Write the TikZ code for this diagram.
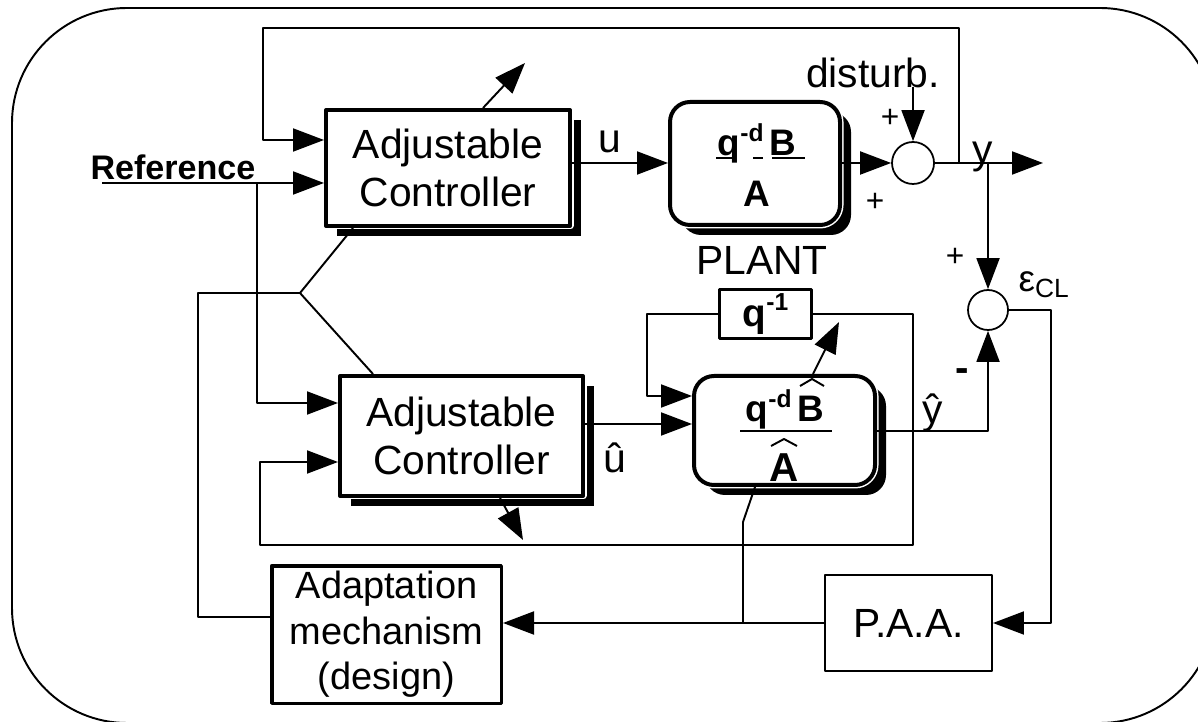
\documentclass[tikz,border=0pt]{standalone}
\usepackage{fontspec}
\setmainfont{Liberation Sans}
\usetikzlibrary{arrows.meta,shadows}

\newcommand{\upidx}[1]{\raisebox{0.4em}{\fontsize{7}{8}\selectfont #1}}

\begin{document}
\begin{tikzpicture}[x=0.1mm,y=-0.1mm,line join=round,
    >={Triangle[length=3.1mm,width=2.3mm]},
    wire/.style={line width=0.55pt},
    txt/.style={font=\fontsize{11.6}{13.8}\selectfont,inner sep=0pt},
    small/.style={font=\fontsize{9}{10}\selectfont,inner sep=0pt},
    shadowed/.style={drop shadow={shadow xshift=1.1mm,shadow yshift=-1mm,
        fill=black,opacity=1},preaction={draw=white,line width=0.7mm}},
    ctrlbox/.style={txt,draw,fill=white,line width=0.4mm,align=center,shadowed},
    plantbox/.style={draw,fill=white,line width=0.4mm,rounded corners=2mm,
        inner sep=0pt,shadowed},
    sumnode/.style={circle,draw,line width=0.5pt,minimum size=4.2mm,inner sep=0pt},
    plainbox/.style={txt,draw,align=center},
    fracfont/.style={font=\bfseries\fontsize{10.5}{12}\selectfont,inner sep=0pt}]

\useasboundingbox (0,0) rectangle (1198,722);

%% ---------------- frame ----------------------------------------------
\draw[wire,rounded corners=11.5mm] (12,8) rectangle (1215,723);

%% ---------------- blocks ---------------------------------------------
\node[ctrlbox,minimum width=24.4mm,minimum height=11.6mm] (ctrl) at (448,168)
  {Adjustable\\Controller};
\node[ctrlbox,minimum width=24.3mm,minimum height=12mm] (ctrlm) at (461.5,436)
  {Adjustable\\Controller};
\node[plantbox,minimum width=17mm,minimum height=12.3mm] (plant) at (755,163.5) {};
\node[plantbox,minimum width=18.1mm,minimum height=10.9mm] (model) at (784.5,430.5) {};
\node[sumnode] (sumy) at (913,163) {};
\node[sumnode,minimum size=4mm] (sume) at (988,310) {};
\node[plainbox,line width=0.3mm,minimum width=9.2mm,minimum height=4.9mm,
  font=\bfseries\fontsize{11}{12}\selectfont] (delay) at (765.5,314) {q\upidx{-1}};
\node[plainbox,line width=0.35mm,minimum width=22.95mm,minimum height=13.75mm,
  font=\fontsize{10.8}{12.95}\selectfont] (adapt) at (386.5,634.5)
  {Adaptation\\mechanism\\(design)};
\node[plainbox,wire,minimum width=16.7mm,minimum height=9.6mm] (paa) at (908.5,623)
  {P.A.A.};

%% the two transfer functions
\node[fracfont,anchor=base] (pnum) at (757,156) {q\upidx{-d}\kern0.6mm B};
\node[fracfont,anchor=base] (pden) at (757,207) {A};
\draw[wire] (716,158) -- (733,158) (753,158) -- (763,158) (772,158) -- (805,158);
\node[fracfont,anchor=base] (mnum) at (785,422) {q\upidx{-d}\kern0.6mm B};
\node[fracfont,font=\bfseries\fontsize{11.5}{12}\selectfont,anchor=base] (mden)
  at (784,482) {A};
\draw[wire] (740,431) -- (832,431);
%% estimate hats
\draw[wire] (800,386) -- (812,379) -- (824,386);
\draw[wire] (771,446) -- (784,439) -- (797,446);

%% ---------------- signals --------------------------------------------
\coordinate (refin) at (102,183);
\coordinate (refsplit) at (257,183);
\coordinate (distin) at (913,87);
\coordinate (yjoin) at (959,163);
\coordinate (ysplit) at (988,163);
\coordinate (yout) at (1043,163);
\coordinate (fork) at (300,293);
\coordinate (errjoin) at (743,622);

\draw[wire,->] (refin) -- (ctrl.west |- refin);
\draw[wire,->] (refsplit) |- (ctrlm.west |- 0,403);
\draw[wire,->] (yjoin) |- (263,28) |- (ctrl.west |- 0,140);
\draw[wire,->] (ctrl.east |- 0,163) -- (plant.west |- 0,163);
\draw[wire,->] (plant.east |- 0,163) -- (sumy.west);
\draw[wire,->] (distin) -- (sumy.north);
\draw[wire,->] (sumy.east) -- (yout);
\draw[wire,->] (ysplit) -- (sume.north);
\draw[wire,->] (sume.east) -| (1051,623) -- (paa.east);
\draw[wire,->] (paa.west) -- (adapt.east |- paa.west);
\draw[wire] (model.south -| 755,0) -- (743,522) -- (errjoin);
\draw[wire,->] (model.east |- 0,431) -| (sume.south);
\draw[wire,->] (ctrlm.east |- 0,424) -- (model.west |- 0,424);
\draw[wire,->] (delay.west) -| (647,396) -- (model.west |- 0,396);
\draw[wire,->] (delay.east) -| (913,545) -| (260,462) -- (ctrlm.west |- 0,462);
\draw[wire] (ctrl.south -| 353,0) -- (fork) -- (ctrlm.north -| 373,0);
\draw[wire] (fork) -- (198,293) |- (adapt.west |- 0,617);
%% adjustment arrows
\draw[wire,->] (ctrl.north -| 483,0) -- (525,63);
\draw[wire,->] (model.north -| 813,0) -- (839,322);
\draw[wire,->] (ctrlm.south -| 500,0) -- (523,540);

%% ---------------- labels ---------------------------------------------
\node[font=\bfseries\fontsize{9.7}{11}\selectfont,inner sep=0pt,anchor=base]
  (reflab) at (173,180) {Reference};
\node[txt,anchor=base] (ulab) at (610,153) {u};
\node[txt,anchor=base] (uhlab) at (615,473) {û};
\node[txt,anchor=base] (ylab) at (983,164) {y};
\node[txt,anchor=base] (yhlab) at (933,424) {ŷ};
\node[txt,anchor=base] (distlab) at (873,88) {disturb.};
\node[txt,anchor=base] (plantlab) at (762,275) {PLANT};
\node[small] (plusa) at (890,118) {+};
\node[small] (plusb) at (875,202) {+};
\node[small] (plusc) at (955,257) {+};
\node[txt,font=\bfseries\fontsize{11.5}{12}\selectfont] (minus) at (962,375) {-};
\node[txt,font=\fontsize{10.5}{12}\selectfont,anchor=base west] (errlab)
  at (1018,292) {ε\raisebox{-1.5pt}{\fontsize{7.5}{8}\selectfont CL}};

\end{tikzpicture}
\end{document}
